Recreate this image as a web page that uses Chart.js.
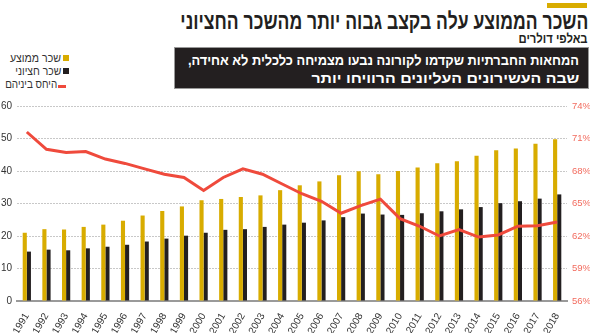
<!DOCTYPE html>
<html lang="he">
<head>
<meta charset="utf-8">
<script src="https://cdn.jsdelivr.net/npm/chart.js@4"></script>
<style>
    body { margin: 0; width: 590px; height: 333px; background: #fff; position: relative; overflow: hidden; font-family: "Liberation Sans", Arial, sans-serif; }
    .bar-top { position: absolute; left: 547px; top: 3px; width: 40px; height: 5px; background: #d8ac00; }
    .fit { position: absolute; direction: rtl; white-space: nowrap; transform-origin: right top; }
    .title { right: 2px; top: 9px; font-weight: bold; font-size: 23px; line-height: 24px; color: #231f20; }
    .subtitle { right: 2px; top: 32px; font-weight: bold; font-size: 13px; line-height: 14px; color: #231f20; }
    .box { position: absolute; left: 174px; top: 47px; width: 413px; height: 40px; background: #231f20; border: 1px solid #999; }
    .boxline { color: #fff; font-weight: bold; font-size: 14px; line-height: 16px; }
    .leg { font-size: 12px; line-height: 13px; color: #333; }
    .sw { position: absolute; }
    #chart { position: absolute; left: 0; top: 95px; }
</style>
</head>
<body>
<div class="bar-top"></div>
<div class="fit title" data-w="408">השכר הממוצע עלה בקצב גבוה יותר מהשכר החציוני</div>
<div class="fit subtitle" data-w="69">באלפי דולרים</div>
<div class="box"></div>
<div class="fit boxline" style="right:11px;top:52px" data-w="391">המחאות החברתיות שקדמו לקורונה נבעו מצמיחה כלכלית לא אחידה,</div>
<div class="fit boxline" style="right:11px;top:70px" data-w="268">שבה העשירונים העליונים הרוויחו יותר</div>
<div id="legend"></div>
<canvas id="chart" width="590" height="238"></canvas>
<script>
// years on the x axis
const years = ["1991", "1992", "1993", "1994", "1995", "1996", "1997", "1998", "1999", "2000",
    "2001", "2002", "2003", "2004", "2005", "2006", "2007", "2008", "2009", "2010",
    "2011", "2012", "2013", "2014", "2015", "2016", "2017", "2018"];

// average wage (thousands $)
const averageWage = [21.0, 22.1, 22.0, 22.8, 23.5, 24.7, 26.3, 27.7, 29.1, 31.0,
    31.4, 32.0, 32.5, 34.1, 35.6, 36.8, 38.7, 39.9, 39.0, 40.0,
    41.1, 42.4, 43.0, 44.7, 46.4, 46.9, 48.4, 49.8];

// median wage (thousands $)
const medianWage = [15.2, 15.8, 15.6, 16.2, 16.7, 17.3, 18.3, 19.2, 20.1, 21.0,
    21.9, 22.1, 22.8, 23.5, 24.1, 24.8, 25.8, 26.9, 26.6, 26.5,
    27.0, 27.6, 28.2, 28.9, 30.1, 30.7, 31.5, 32.8];

// ratio median / average (%)
const ratio = [71.6, 70.0, 69.7, 69.8, 69.1, 68.7, 68.2, 67.7, 67.4, 66.2,
    67.4, 68.2, 67.7, 66.8, 65.9, 65.2, 64.1, 64.8, 65.4, 63.6,
    62.9, 62.0, 62.6, 61.9, 62.1, 62.9, 62.95, 63.3];

const leftTicks = [0, 10, 20, 30, 40, 50, 60];
const rightTicks = [56, 59, 62, 65, 68, 71, 74];

const labels = {
    average: "שכר ממוצע",
    median: "שכר חציוני",
    ratio: "היחס ביניהם"
};

const GOLD = "#d8ac00";
const DARK = "#231f20";
const RED = "#ef4a3c";

// html legend, swatch on the right of the text
const legend = document.getElementById("legend");
[[labels.average, GOLD, 51, 52], [labels.median, DARK, 46, 65], [labels.ratio, RED, 52, 78]].forEach(([text, color, w, top], i) => {
    const t = document.createElement("div");
    t.className = "fit leg";
    t.style.right = (i === 2 ? 533 : 529) + "px";
    t.style.top = top + "px";
    t.dataset.w = w;
    t.textContent = text;
    legend.appendChild(t);
    const sw = document.createElement("div");
    sw.className = "sw";
    sw.style.background = color;
    if (i === 2) {
        sw.style.left = "58px"; sw.style.top = (top + 7) + "px"; sw.style.width = "8px"; sw.style.height = "3px";
    } else {
        sw.style.left = "63px"; sw.style.top = (top + 3) + "px"; sw.style.width = "6px"; sw.style.height = "6px";
    }
    legend.appendChild(sw);
});

// squeeze text horizontally to the width used in the original (condensed face)
document.querySelectorAll(".fit").forEach(el => {
    const target = parseFloat(el.dataset.w);
    const actual = el.getBoundingClientRect().width;
    if (target && actual) el.style.transform = `scaleX(${target / actual})`;
});

const ctx = document.getElementById("chart").getContext("2d");
const tickFont = { family: "Liberation Sans", size: 10 };

new Chart(ctx, {
    type: "bar",
    data: {
        labels: years,
        datasets: [
            {
                type: "line",
                label: labels.ratio,
                data: ratio,
                yAxisID: "y1",
                borderColor: RED,
                borderWidth: 3,
                pointRadius: 0,
                tension: 0,
                order: 0
            },
            {
                label: labels.average,
                data: averageWage,
                backgroundColor: GOLD,
                yAxisID: "y",
                categoryPercentage: 0.42,
                barPercentage: 1,
                order: 1
            },
            {
                label: labels.median,
                data: medianWage,
                backgroundColor: DARK,
                yAxisID: "y",
                categoryPercentage: 0.42,
                barPercentage: 1,
                order: 1
            }
        ]
    },
    options: {
        responsive: false,
        maintainAspectRatio: false,
        animation: false,
        layout: { padding: { top: 11, left: 0, right: 0, bottom: 0 } },
        plugins: {
            legend: { display: false },
            tooltip: { enabled: false }
        },
        scales: {
            x: {
                grid: { display: false },
                border: { display: true, color: "#9a9a9a", width: 2 },
                ticks: {
                    color: "#333",
                    font: tickFont,
                    minRotation: 60,
                    maxRotation: 60,
                    autoSkip: false,
                    padding: 2
                },
                afterFit: (s) => { s.height = 32; }
            },
            y: {
                position: "left",
                min: 0,
                max: 60,
                afterBuildTicks: (s) => { s.ticks = leftTicks.map(v => ({ value: v })); },
                grid: {
                    color: (c) => c.tick.value === 0 ? "rgba(0,0,0,0)" : "#c8c8c8",
                    drawTicks: false,
                    lineWidth: 1
                },
                border: { display: false, dash: [2, 1] },
                ticks: {
                    color: "#333",
                    font: tickFont,
                    align: "center",
                    crossAlign: "near",
                    padding: 5
                },
                afterFit: (s) => { s.width = 17; }
            },
            y1: {
                position: "right",
                min: 56,
                max: 74,
                afterBuildTicks: (s) => { s.ticks = rightTicks.map(v => ({ value: v })); },
                grid: { display: false, drawTicks: false },
                border: { display: false },
                ticks: {
                    color: "#f26b5e",
                    font: { family: "Liberation Sans", size: 9.5 },
                    callback: (v) => v + "%",
                    padding: 5
                },
                afterFit: (s) => { s.width = 23; }
            }
        }
    }
});
</script>
</body>
</html>
